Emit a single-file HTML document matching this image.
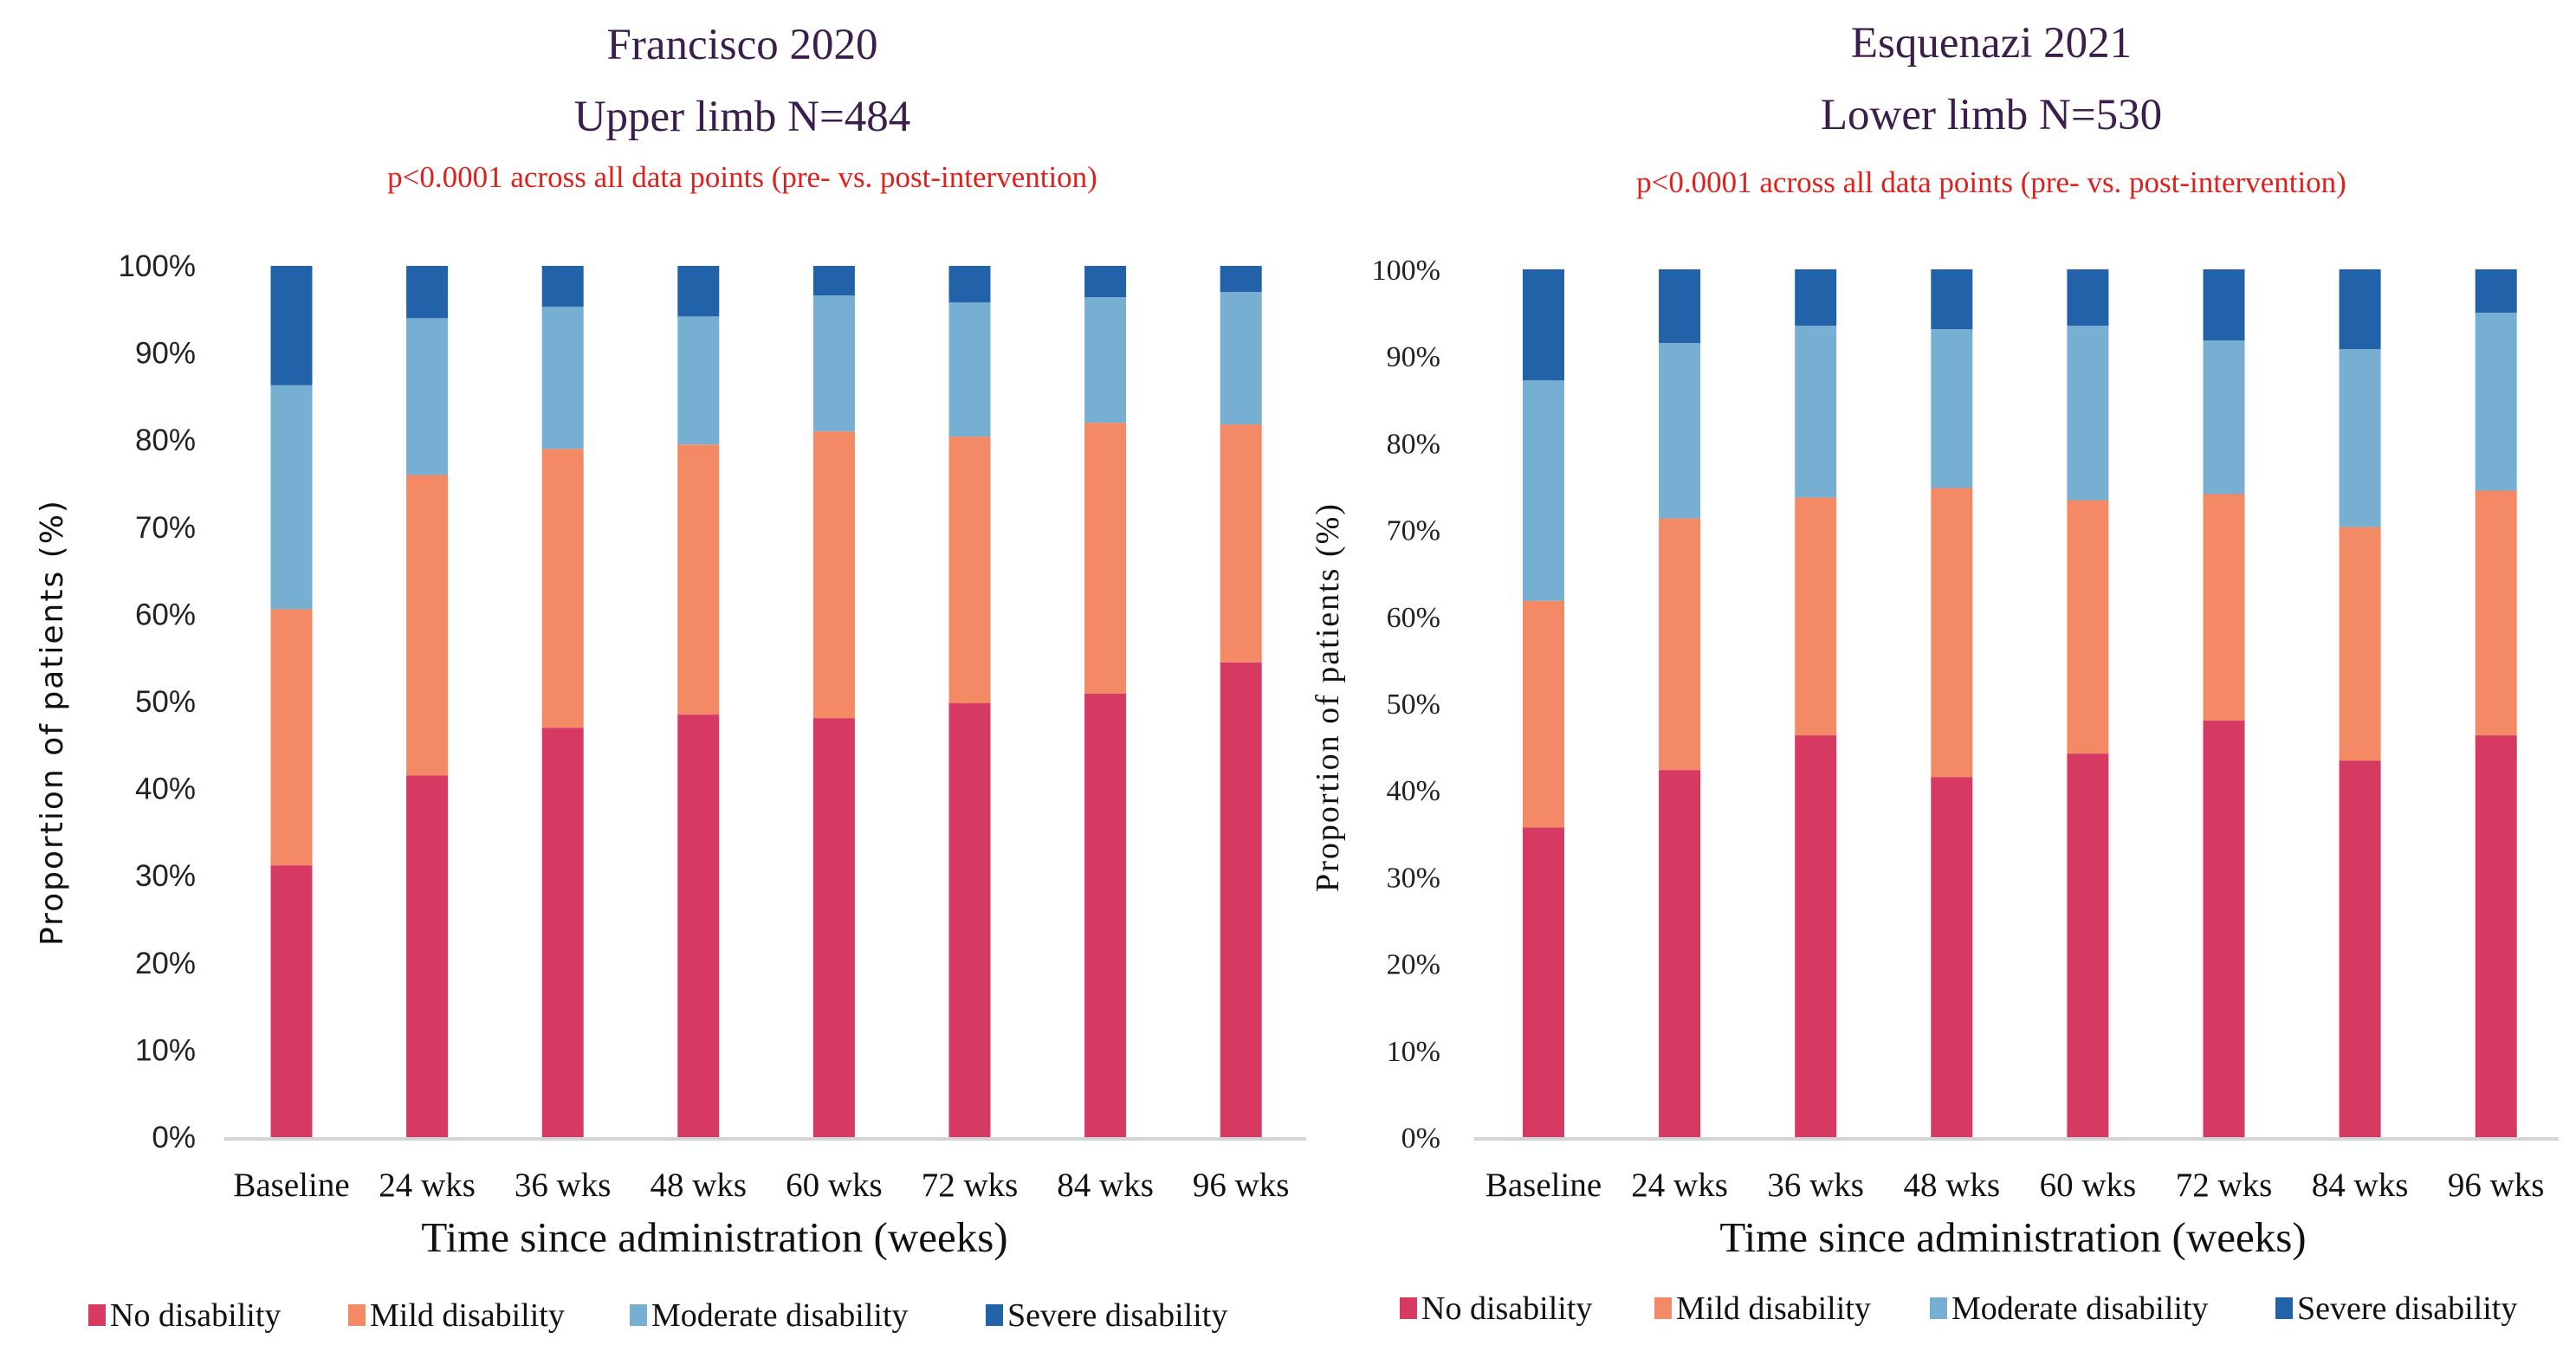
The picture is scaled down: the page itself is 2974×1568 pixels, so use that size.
<!DOCTYPE html>
<html><head><meta charset="utf-8">
<style>
html,body{margin:0;padding:0;background:#fff;}
svg{display:block;}
</style></head>
<body>
<svg id="fig" width="2974" height="1568" viewBox="0 0 2974 1568" xmlns="http://www.w3.org/2000/svg">
<rect width="2974" height="1568" fill="#fff"/>
<g id="left"></g>
<g id="right"></g>
</svg>
<script>
const categories = ["Baseline","24 wks","36 wks","48 wks","60 wks","72 wks","84 wks","96 wks"];
const yTicks = [0,10,20,30,40,50,60,70,80,90,100];
const seriesNames = ["No disability","Mild disability","Moderate disability","Severe disability"];
// Upper limb (Francisco 2020), percent shares
const upperNo = [31.2,41.5,47.0,48.5,48.1,49.8,50.9,54.5];
const upperMild = [29.4,34.5,32.0,31.0,32.9,30.6,31.1,27.3];
const upperModerate = [25.7,18.0,16.3,14.7,15.6,15.4,14.4,15.2];
const upperSevere = [13.7,6.0,4.7,5.8,3.4,4.2,3.6,3.0];
// Lower limb (Esquenazi 2021), percent shares
const lowerNo = [35.7,42.3,46.3,41.5,44.2,48.0,43.4,46.3];
const lowerMild = [26.1,29.0,27.4,33.3,29.2,26.1,26.9,28.2];
const lowerModerate = [25.4,20.2,19.8,18.3,20.1,17.7,20.5,20.5];
const lowerSevere = [12.8,8.5,6.5,6.9,6.5,8.2,9.2,5.0];

const colors = ["#d63a63","#f48965","#76afd2","#2162a8"];
const NS = "http://www.w3.org/2000/svg";
const SERIF = '"Palatino Linotype","Book Antiqua",Palatino,"Liberation Serif",serif';

function mk(parent, tag, attrs, text){
  const e = document.createElementNS(NS, tag);
  for (const k in attrs) e.setAttribute(k, attrs[k]);
  if (text !== undefined) e.textContent = text;
  parent.appendChild(e);
  return e;
}

function drawChart(g, cfg, series, idp){
  const yScale = v => cfg.y0 + (cfg.y100 - cfg.y0) * v / 100;
  const xScale = i => cfg.x0 + i * cfg.step;
  let t = mk(g,'text',{x:cfg.tx,y:cfg.t1y,'text-anchor':'middle','font-family':SERIF,'font-size':51,fill:'#3b1e4c'},cfg.title1);
  
  
  t = mk(g,'text',{x:cfg.tx,y:cfg.t2y,'text-anchor':'middle','font-family':SERIF,'font-size':51,fill:'#3b1e4c'},cfg.title2);
  
  
  t = mk(g,'text',{x:cfg.tx,y:cfg.t3y,'text-anchor':'middle','font-family':SERIF,'font-size':35,fill:'#e0201c'},"p<0.0001 across all data points (pre- vs. post-intervention)");
  
  
  yTicks.forEach(v=>{
    const lab = mk(g,'text',{x:cfg.ylabX,y:yScale(v)+12,'text-anchor':'end','font-family':cfg.tickFont,'font-size':cfg.tickSize,fill:'#222'},v+'%');
    
    
  });
  categories.forEach((c,i)=>{
    let acc = 0;
    series.forEach((s,k)=>{
      const ytop = yScale(acc + s[i]);
      const ybot = yScale(acc);
      acc += s[i];
      const r = mk(g,'rect',{x:xScale(i)-cfg.bw/2,y:ytop,width:cfg.bw,height:ybot-ytop,fill:colors[k]});
      
      
    });
    const xl = mk(g,'text',{x:xScale(i),y:cfg.xlabY,'text-anchor':'middle','font-family':SERIF,'font-size':39,fill:'#111'},c);
    
    
  });
  const ax = mk(g,'line',{x1:cfg.axL,x2:cfg.axR,y1:cfg.y0+2,y2:cfg.y0+2,stroke:'#d4d4d4','stroke-width':4});
  
  
  t = mk(g,'text',{x:cfg.xtX,y:cfg.xtY,'text-anchor':'middle','font-family':SERIF,'font-size':49,fill:'#111'},"Time since administration (weeks)");
  
  
  t = mk(g,'text',{x:0,y:0,'text-anchor':'middle','font-family':cfg.ytFont,'font-size':cfg.ytSize,'letter-spacing':cfg.ytLs,fill:'#111',transform:`translate(${cfg.ytX},${cfg.ytY}) rotate(-90)`},"Proportion of patients (%)");
  
  
  seriesNames.forEach((n,k)=>{
    const lg = mk(g,'g',{});
    
    
    mk(lg,'rect',{x:cfg.legX[k],y:cfg.legY-25,width:20,height:25,fill:colors[k]});
    mk(lg,'text',{x:cfg.legX[k]+25,y:cfg.legY,'font-family':SERIF,'font-size':38,fill:'#111'},n);
  });
}

drawChart(document.getElementById('left'),{
  title1:"Francisco 2020", title2:"Upper limb N=484",
  tx:857, t1y:68, t2y:151, t3y:216,
  y0:1313, y100:307, x0:336.5, step:156.6, bw:48,
  axL:259, axR:1508, ylabX:226, tickFont:'"Liberation Sans Narrow","Liberation Sans",sans-serif', tickSize:35,
  xlabY:1381, xtX:825, xtY:1445,
  ytFont:'"DejaVu Sans","Liberation Sans",sans-serif', ytSize:36, ytLs:2, ytX:72, ytY:834,
  legX:[102,402,727,1138], legY:1531
},[upperNo,upperMild,upperModerate,upperSevere],'upper');

drawChart(document.getElementById('right'),{
  title1:"Esquenazi 2021", title2:"Lower limb N=530",
  tx:2299, t1y:66, t2y:149, t3y:222,
  y0:1313, y100:311, x0:1782, step:157.1, bw:48,
  axL:1702, axR:2954, ylabX:1663, tickFont:SERIF, tickSize:34,
  xlabY:1381, xtX:2324, xtY:1445,
  ytFont:SERIF, ytSize:38, ytLs:2, ytX:1545, ytY:805,
  legX:[1616,1910,2228,2627], legY:1523
},[lowerNo,lowerMild,lowerModerate,lowerSevere],'lower');
</script>
</body></html>
